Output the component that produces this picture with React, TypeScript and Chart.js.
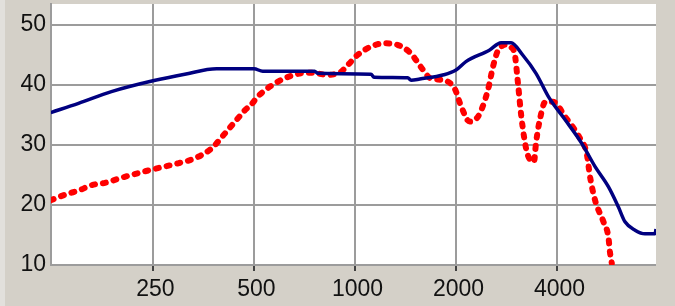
import React, { useEffect, useRef } from "react";
import { Chart, registerables } from "chart.js";

Chart.register(...registerables);

// X ticks (frequency, Hz) and Y ticks (dB)
const xTickValues = [250, 500, 1000, 2000, 4000];
const xTickLabels = ["250", "500", "1000", "2000", "4000"];
const yTickValues = [10, 20, 30, 40, 50];

// Blue series (solid)
const blueFreq = [124, 150, 188, 250, 311, 387, 500, 531, 758, 775, 1116, 1140, 1436, 1470, 1560, 1840, 2000, 2141, 2514, 2725, 2918, 3161, 3463, 3795, 4230, 4737, 5194, 5690, 6092, 6378, 6832, 7313, 7835, 7890];
const blueDb = [35.4, 36.95, 38.9, 40.7, 41.8, 42.7, 42.7, 42.3, 42.3, 41.95, 41.8, 41.3, 41.2, 40.8, 41.0, 41.7, 42.5, 43.9, 45.8, 47.05, 47.05, 45.0, 41.95, 37.8, 34.2, 30.3, 26.4, 23.05, 19.7, 17.2, 15.8, 15.2, 15.2, 16.0];

// Red series (thick dotted)
const redFreq = [124, 138, 150, 164, 180, 206, 250, 297, 334, 374, 410, 444, 470, 490, 513, 549, 616, 690, 739, 829, 908, 951, 1018, 1116, 1223, 1338, 1466, 1570, 1682, 1840, 1986, 2070, 2196, 2280, 2352, 2491, 2578, 2668, 2760, 2825, 2910, 2990, 3060, 3132, 3241, 3330, 3415, 3463, 3555, 3695, 3891, 4230, 4684, 4904, 5018, 5194, 5502, 5690, 5757, 5826];
const redDb = [20.8, 21.8, 22.4, 23.3, 23.7, 24.7, 25.95, 26.95, 27.8, 29.45, 31.95, 34.2, 35.8, 36.7, 38.05, 39.45, 41.1, 41.95, 42.05, 41.7, 42.2, 43.3, 45.0, 46.4, 46.95, 46.7, 45.3, 43.05, 41.1, 40.8, 39.3, 36.5, 33.9, 34.2, 35.2, 39.2, 43.05, 45.8, 46.6, 46.7, 46.3, 45.3, 40.3, 34.7, 29.2, 27.5, 27.2, 30.3, 34.2, 37.2, 37.2, 34.7, 31.1, 28.6, 24.7, 20.8, 17.2, 14.7, 12.0, 10.3];

const FONT = "'Liberation Sans', Arial, sans-serif";

const bgPlugin = {
  id: "bg",
  beforeDraw(chart: any) {
    const { ctx, chartArea, width, height } = chart;
    ctx.save();
    ctx.fillStyle = "#d4d0c8";
    ctx.fillRect(0, 0, width, height);
    ctx.fillStyle = "#e2e0dc";
    ctx.fillRect(0, 0, 5, height);
    ctx.fillStyle = "#ffffff";
    ctx.fillRect(chartArea.left, chartArea.top, chartArea.right - chartArea.left, chartArea.bottom - chartArea.top);
    ctx.restore();
  },
};

export default function App() {
  const ref = useRef<HTMLCanvasElement | null>(null);

  useEffect(() => {
    if (!ref.current) return;
    const chart = new Chart(ref.current, {
      type: "line",
      data: {
        datasets: [
          {
            label: "blue",
            data: blueFreq.map((f, i) => ({ x: f, y: blueDb[i] })),
            borderColor: "#000080",
            borderWidth: 3.5,
            pointRadius: 0,
            cubicInterpolationMode: "monotone",
            fill: false,
          },
          {
            label: "red",
            data: redFreq.map((f, i) => ({ x: f, y: redDb[i] })),
            borderColor: "#ff0000",
            borderWidth: 6,
            borderDash: [3, 8],
            borderCapStyle: "round",
            pointRadius: 0,
            cubicInterpolationMode: "monotone",
            fill: false,
          },
        ],
      },
      options: {
        responsive: false,
        animation: false,
        devicePixelRatio: 1,
        layout: { padding: { top: 4, right: 19, left: 0, bottom: 0 } },
        plugins: { legend: { display: false }, tooltip: { enabled: false } },
        scales: {
          x: {
            type: "logarithmic",
            min: 124.2,
            max: 7890,
            afterBuildTicks: (scale: any) => {
              scale.ticks = xTickValues.map((v) => ({ value: v }));
            },
            afterFit: (scale: any) => {
              scale.height = 41;
              scale.paddingLeft = 0;
              scale.paddingRight = 0;
            },
            grid: {
              color: "#9c9c9c",
              lineWidth: 2,
              drawTicks: true,
              tickLength: 6,
              tickColor: "#404040",
              tickWidth: 2,
            },
            border: { display: false },
            ticks: {
              autoSkip: false,
              maxRotation: 0,
              minRotation: 0,
              padding: 5,
              labelOffset: 2.5,
              color: "#111111",
              font: { family: FONT, size: 23 },
              callback: (v: any) => {
                const i = xTickValues.indexOf(Number(v));
                return i >= 0 ? xTickLabels[i] : "";
              },
            },
          },
          y: {
            type: "linear",
            min: 10,
            max: 53.5,
            afterBuildTicks: (scale: any) => {
              scale.ticks = yTickValues.map((v) => ({ value: v }));
            },
            afterFit: (scale: any) => {
              scale.width = 51;
              scale.paddingTop = 0;
              scale.paddingBottom = 0;
            },
            grid: {
              color: "#9c9c9c",
              lineWidth: 2,
              drawTicks: false,
            },
            border: { display: true, color: "#9c9c9c", width: 2 },
            ticks: {
              padding: 5,
              color: "#111111",
              font: { family: FONT, size: 23 },
              callback: (v: any) => String(v),
            },
          },
        },
      },
      plugins: [bgPlugin],
    } as any);
    return () => chart.destroy();
  }, []);

  return (
    <div style={{ position: "absolute", left: 0, top: 0, width: 675, height: 306 }}>
      <canvas ref={ref} width={675} height={306} style={{ display: "block", width: 675, height: 306 }} />
    </div>
  );
}
